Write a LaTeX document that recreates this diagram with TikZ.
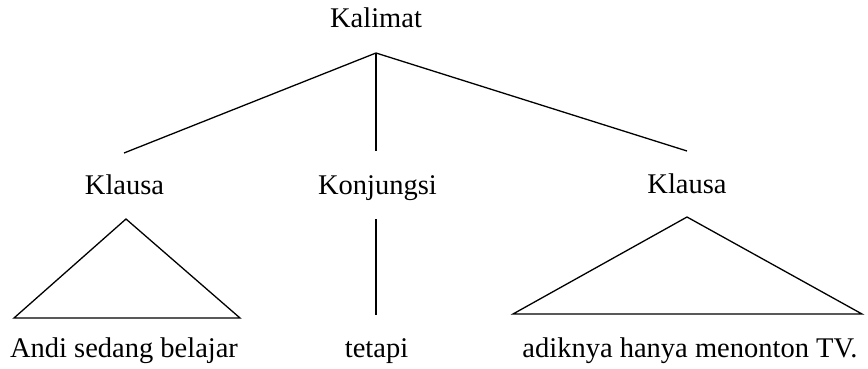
\documentclass[tikz,border=0pt]{standalone}
\usepackage{fontspec}
\setmainfont{Liberation Serif}

\begin{document}
\begin{tikzpicture}[
    x=1pt, y=-1pt,
    word/.style={anchor=base, inner sep=0pt, font=\fontsize{28.5}{34}\selectfont},
    edge/.style={draw, line width=1.3pt}
]
    \useasboundingbox (0,0) rectangle (868,369);

    % Labels ===========================
    \node[word] (Kalimat) at (376, 28) {Kalimat};
    \node[word] (KlausaA) at (124.5, 194) {Klausa};
    \node[word] (Konjungsi) at (377.5, 194) {Konjungsi};
    \node[word] (KlausaB) at (687, 193) {Klausa};

    % Leaves ===========================
    \node[word] (andi) at (124, 357) {Andi sedang belajar};
    \node[word] (tetapi) at (376.5, 357) {tetapi};
    \node[word] (adik) at (690, 357) {adiknya hanya menonton TV.};

    % Branch ends ===========================
    \coordinate (root) at (376, 53);
    \coordinate (toA) at (124, 153);
    \coordinate (toK) at (376, 151);
    \coordinate (toB) at (687, 151);

    \draw[edge] (root) -- (toA);
    \draw[edge] (root) -- (toK);
    \draw[edge] (root) -- (toB);

    % Konjungsi -> tetapi ===========================
    \coordinate (kTop) at (376, 219);
    \coordinate (kBot) at (376, 315);
    \draw[edge] (kTop) -- (kBot);

    % Triangles ===========================
    \coordinate (aTop) at (126, 219);
    \coordinate (aLeft) at (14, 318);
    \coordinate (aRight) at (240, 318);
    \draw[edge, line join=miter] (aLeft) -- (aTop) -- (aRight) -- cycle;

    \coordinate (bTop) at (687, 217);
    \coordinate (bLeft) at (513, 314);
    \coordinate (bRight) at (862, 314);
    \draw[edge, line join=miter] (bLeft) -- (bTop) -- (bRight) -- cycle;

\end{tikzpicture}
\end{document}
